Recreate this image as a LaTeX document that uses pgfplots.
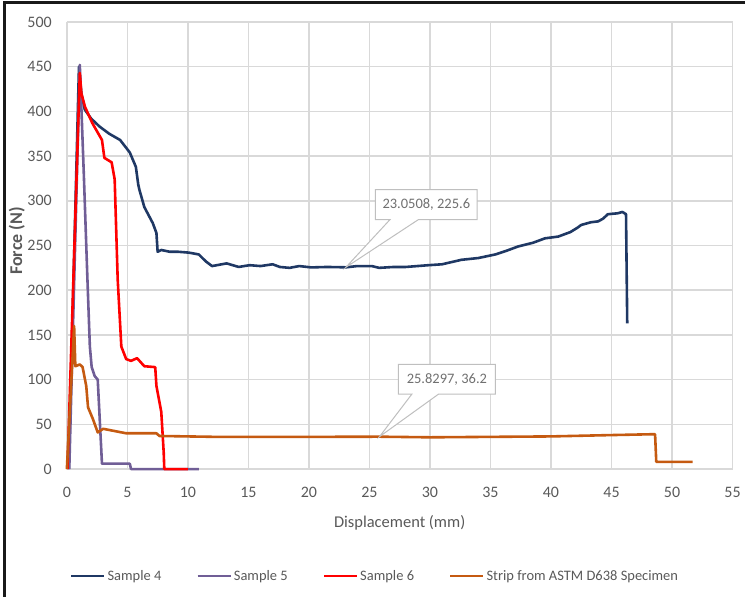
\documentclass[border=0pt]{standalone}
\usepackage{fontspec}
\setmainfont{Carlito}
\usepackage{pgfplots}
\pgfplotsset{compat=1.18}
\definecolor{sfour}{RGB}{31,56,100}
\definecolor{sfive}{RGB}{112,94,150}
\definecolor{ssix}{RGB}{255,0,0}
\definecolor{strip}{RGB}{197,90,17}
\definecolor{txtgray}{RGB}{89,89,89}
\definecolor{gridgray}{RGB}{217,217,217}
\definecolor{callgray}{RGB}{191,191,191}
\definecolor{calltxt}{RGB}{112,112,112}
\begin{document}
\begin{tikzpicture}[x=1pt,y=1pt]
\path (0,0) rectangle (746,598);
\draw[line width=3pt, black!90] (5,0) -- (5,595) -- (746,595);
\begin{axis}[
  at={(67pt,128pt)}, anchor=south west,
  scale only axis, width=667pt, height=448pt,
  xmin=0, xmax=55, ymin=0, ymax=500,
  xtick={0,5,...,55}, ytick={0,50,...,500},
  grid=major,
  grid style={gridgray, line width=1.5pt},
  axis line style={draw=none},
  major tick length=0pt,
  clip=false,
  /pgf/number format/assume math mode=true,
  tick label style={font=\fontsize{16}{19}\selectfont, text=txtgray},
  yticklabel style={anchor=east, inner sep=0pt, xshift=-15pt},
  xticklabel style={anchor=north, inner sep=0pt, yshift=-18pt},
  xlabel={Displacement (mm)},
  ylabel={\bfseries Force (N)},
  xlabel style={at={(axis description cs:0.5,0)}, anchor=center, yshift=-54pt, font=\fontsize{16.5}{19}\selectfont, text=txtgray},
  ylabel style={at={(axis description cs:-0.075,0.51)}, anchor=center, font=\fontsize{18}{21}\selectfont, text=txtgray},
  legend columns=4,
  legend style={at={(axis description cs:0.463,-0.239)}, anchor=center, draw=none, fill=none,
    font=\fontsize{14.5}{17}\selectfont, text=txtgray,
    /tikz/every even column/.append style={column sep=33pt}},
  legend image code/.code={\draw[#1] (0pt,0pt) -- (33pt,0pt);},
  every axis plot/.append style={line width=2.6pt, line join=round},
]
\addplot[sfour] coordinates {
(0.15,0) (1.0,450) (1.2,420) (1.48,402) (2.0,392) (2.7,383) (3.5,375) (4.4,368) (5.2,354) (5.7,338) (5.9,318) (6.0,312) (6.4,293) (7.1,275) (7.4,264) (7.5,243) (7.8,245) (8.5,243) (9.2,243) (10.1,242) (10.9,240) (11.5,232) (12.0,227) (12.8,229) (13.2,230) (14.2,226) (15.1,228) (16.0,227) (17.0,229) (17.6,226) (18.4,225) (19.2,227) (20.2,225.5) (21.5,226) (23.05,225.6) (24.0,227) (25.2,227) (25.8,225) (27.0,226) (28.0,226) (29.9,228) (31.0,229) (32.6,234) (34.0,236) (35.4,240) (36.3,244) (37.3,249) (38.5,253) (39.5,258) (40.6,260) (41.6,265) (42.2,270) (42.5,273) (43.3,276) (43.9,277) (44.3,280) (44.7,285) (45.5,286) (45.9,287.5) (46.2,285) (46.3,163)
};
\addlegendentry{Sample 4}
\addplot[sfive] coordinates {
(0.2,0) (1.07,452) (1.4,330) (1.7,212) (1.9,137) (2.05,114) (2.3,104) (2.55,100) (2.7,60) (2.9,6) (5.2,6) (5.3,0) (10.9,0)
};
\addlegendentry{Sample 5}
\addplot[ssix] coordinates {
(0.05,0) (1.07,443) (1.2,420) (1.5,405) (2.1,387) (2.9,368) (3.1,348) (3.7,343) (3.95,324) (4.2,212) (4.5,137) (4.9,123) (5.3,121) (5.8,124) (6.4,115) (7.3,114) (7.4,93) (7.8,64) (8.0,19) (8.05,0) (10.0,0)
};
\addlegendentry{Sample 6}
\addplot[strip] coordinates {
(0,0) (0.6,160) (0.7,115) (1.07,117) (1.3,114) (1.6,93) (1.75,69) (2.15,56) (2.55,41) (3.0,45) (4.9,40) (7.4,40) (7.65,37) (12.3,36) (20,36) (25.83,36.2) (30,35.5) (35,36) (40,36.5) (45,38) (48.6,39) (48.7,8) (51.7,8)
};
\addlegendentry{Strip from ASTM D638 Specimen}
\draw[callgray, fill=white, line width=1pt] (axis cs:25.5,312.5) -- (axis cs:33.9,312.5) -- (axis cs:33.9,279) -- (axis cs:29.05,279) -- (axis cs:23.05,225.6) -- (axis cs:26.7,279) -- (axis cs:25.5,279) -- cycle;
\node[text=calltxt, font=\fontsize{14.5}{17}\selectfont] at (axis cs:29.7,295.75) {23.0508, 225.6};
\draw[callgray, fill=white, line width=1pt] (axis cs:27.4,117) -- (axis cs:35.4,117) -- (axis cs:35.4,83.7) -- (axis cs:30.7,83.7) -- (axis cs:25.83,36.2) -- (axis cs:28.5,83.7) -- (axis cs:27.4,83.7) -- cycle;
\node[text=calltxt, font=\fontsize{14.5}{17}\selectfont] at (axis cs:31.4,100.35) {25.8297, 36.2};
\end{axis}
\end{tikzpicture}
\end{document}
